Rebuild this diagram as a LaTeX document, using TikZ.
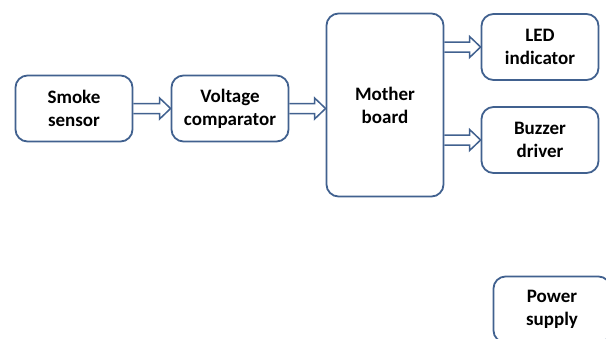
\documentclass[tikz,border=0pt]{standalone}
\usepackage{fontspec}
\setmainfont{Carlito}
\usetikzlibrary{positioning,calc}
\definecolor{boxline}{HTML}{41618F}

% hollow block arrow from one anchor to another (horizontal)
\newcommand{\feedarrow}[2]{%
  \draw[feed] ($(#1)+(0,-5)$) -- ($(#2)+(-11,-5)$) -- ($(#2)+(-11,-10.5)$)
    -- (#2) -- ($(#2)+(-11,10.5)$) -- ($(#2)+(-11,5)$) -- ($(#1)+(0,5)$);}

\begin{document}
\begin{tikzpicture}[x=1pt, y=-1pt,
  block/.style={draw=boxline, line width=1.8pt, rounded corners=12pt, fill=white,
    minimum width=117pt, minimum height=66pt, align=center,
    font=\fontsize{19}{23}\selectfont\bfseries},
  feed/.style={draw=boxline, line width=1.5pt, line join=miter}]

\useasboundingbox (0,0) rectangle (606,338);

\node[block] (smoke) at (74,108.5) {Smoke\\sensor};
\node[block] (comp) at (230,108.5) {Voltage\\comparator};
\node[block, minimum height=183pt] (mb) at (385,105) {Mother\\board};
\node[block] (led) at (540,47) {LED\\indicator};
\node[block] (buzz) at (540,140) {Buzzer\\driver};
\node[block] (power) at (552,309.5) {Power\\supply};

\feedarrow{smoke.east}{comp.west}
\feedarrow{comp.east}{comp.east -| mb.west}
\feedarrow{mb.east |- led.west}{led.west}
\feedarrow{mb.east |- buzz.west}{buzz.west}

\end{tikzpicture}
\end{document}
